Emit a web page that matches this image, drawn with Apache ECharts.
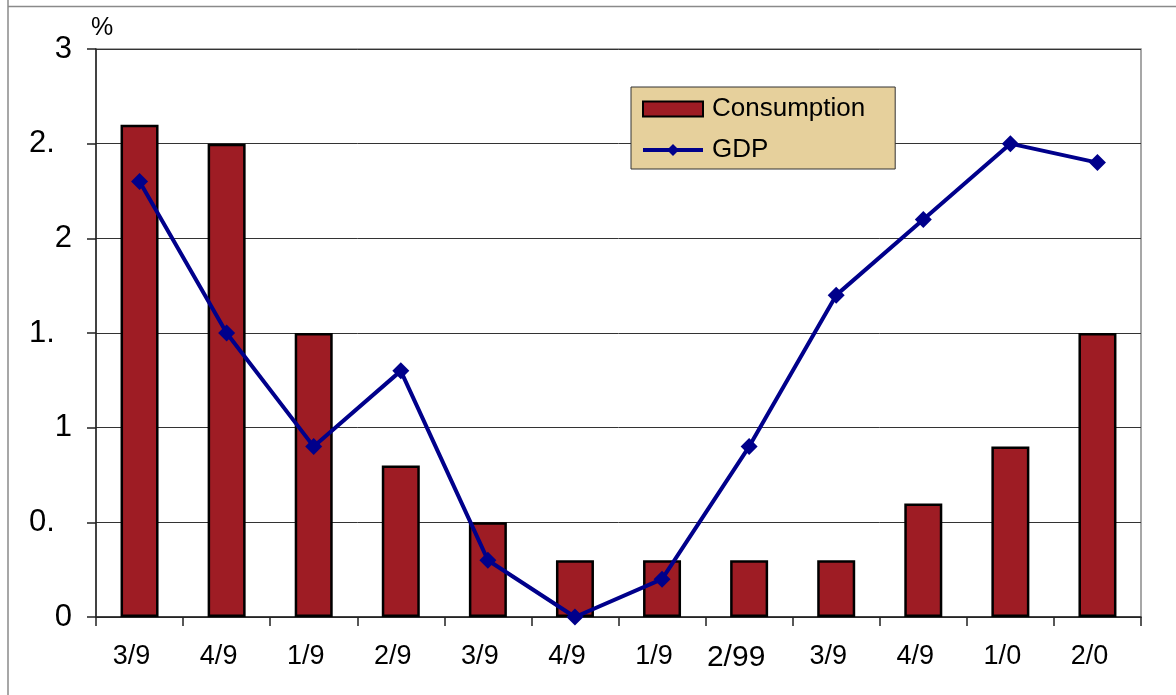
<!DOCTYPE html>
<html>
<head>
<meta charset="utf-8">
<style>
  html, body { margin: 0; padding: 0; background: #fff; }
  #chart { width: 1176px; height: 695px; }
</style>
<script src="https://cdn.jsdelivr.net/npm/echarts@6/dist/echarts.min.js"></script>
</head>
<body>
<div id="chart"></div>
<script>
// Quarter labels along the x-axis
const categories = ['3/9', '4/9', '1/9', '2/9', '3/9', '4/9', '1/9', '2/99', '3/9', '4/9', '1/0', '2/0'];
// Growth rates, %
const consumption = [2.6, 2.5, 1.5, 0.8, 0.5, 0.3, 0.3, 0.3, 0.3, 0.6, 0.9, 1.5];
const gdp = [2.3, 1.5, 0.9, 1.3, 0.3, 0.0, 0.2, 0.9, 1.7, 2.1, 2.5, 2.4];

const chart = echarts.init(document.getElementById('chart'));
const font = 'Liberation Sans, Arial, sans-serif';

// Y tick labels keep their full width but the decimal digit is cut off
function yLabel(v) {
  const s = String(v);
  const dot = s.indexOf('.');
  if (dot < 0) return s;
  return s.slice(0, dot + 1) + '{h|' + s.slice(dot + 1) + '}';
}

chart.setOption({
  animation: false,
  backgroundColor: '#fff',
  textStyle: { fontFamily: font },
  grid: {
    left: 96, right: 35, top: 49, bottom: 78,
    show: true, borderColor: '#8a8a8a', borderWidth: 1.5, backgroundColor: 'transparent'
  },
  graphic: [
    { type: 'line', shape: { x1: 8, y1: 0, x2: 8, y2: 695 }, style: { stroke: '#8a8a8a', lineWidth: 1.5 } },
    { type: 'line', shape: { x1: 8, y1: 6.5, x2: 1176, y2: 6.5 }, style: { stroke: '#8a8a8a', lineWidth: 1.5 } },
    { type: 'text', left: 91, top: 16, style: { text: '%', font: '25px ' + font, fill: '#000' } }
  ],
  legend: {
    left: 631, top: 87,
    orient: 'vertical',
    backgroundColor: '#E6D09C',
    borderColor: '#333',
    borderWidth: 1,
    padding: [9, 30, 6, 10],
    itemGap: 15,
    itemWidth: 60,
    itemHeight: 15,
    textStyle: { fontSize: 26, color: '#000', fontFamily: font, padding: [0, 0, 0, 4] },
    data: [
      { name: 'Consumption', icon: 'rect' },
      { name: 'GDP', lineStyle: { width: 4 } }
    ]
  },
  xAxis: {
    type: 'category',
    data: categories,
    boundaryGap: true,
    axisLine: { lineStyle: { color: '#222', width: 1.5 } },
    axisTick: { show: true, length: 9, alignWithLabel: false, lineStyle: { color: '#222', width: 1.5 } },
    axisLabel: {
      margin: 26, fontSize: 27, color: '#000', fontFamily: font,
      interval: 0,
      padding: [0, 16, 0, 0],
      formatter: v => v === '2/99' ? '{big|' + v + '}' : v,
      rich: { big: { fontSize: 30, fontFamily: font, color: '#000', padding: [0, 10, 0, 0] } }
    },
    splitLine: { show: false }
  },
  yAxis: {
    type: 'value',
    min: 0, max: 3, interval: 0.5,
    axisLine: { show: true, lineStyle: { color: '#222', width: 1.5 } },
    axisTick: { show: true, length: 9, lineStyle: { color: '#222', width: 1.5 } },
    axisLabel: {
      margin: 24, fontSize: 31, color: '#000', fontFamily: font,
      formatter: yLabel,
      rich: { h: { fontSize: 31, fontFamily: font, color: 'rgba(0,0,0,0)' } }
    },
    splitLine: { show: true, lineStyle: { color: '#333', width: 1 } }
  },
  series: [
    {
      name: 'Consumption',
      type: 'bar',
      data: consumption,
      barWidth: 38,
      itemStyle: { color: '#9E1C24', borderColor: '#000', borderWidth: 2.5 }
    },
    {
      name: 'GDP',
      type: 'line',
      data: gdp,
      symbol: 'diamond',
      symbolSize: 17,
      lineStyle: { color: '#00008B', width: 4 },
      itemStyle: { color: '#00008B' }
    }
  ]
});
</script>
</body>
</html>
